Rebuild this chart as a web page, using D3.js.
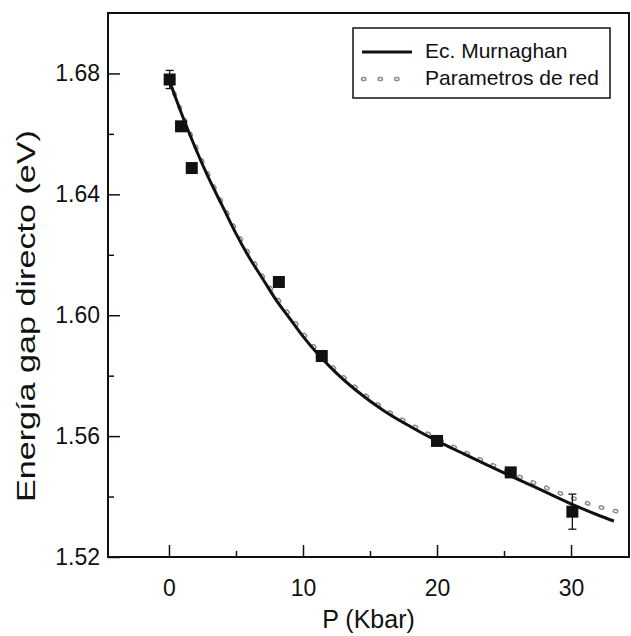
<!DOCTYPE html>
<html>
<head>
<meta charset="utf-8">
<script src="https://cdn.jsdelivr.net/npm/d3@7"></script>
<style>
  html, body { margin: 0; padding: 0; background: #fff; }
  svg { display: block; }
  text { font-family: "Liberation Sans", Arial, Helvetica, sans-serif; fill: #111; }
</style>
</head>
<body>
<svg id="chart" width="631" height="636"></svg>
<script>
// ---- data ----
const expPressure = [0.05, 0.9, 1.7, 8.2, 11.4, 20.0, 25.5, 30.1];
const expGap      = [1.678, 1.6625, 1.6487, 1.611, 1.5865, 1.5584, 1.548, 1.535];
const expErr      = [0.003, 0, 0, 0, 0, 0, 0, 0.0058];

const murnPressure = [0, 1, 2, 3, 4, 5, 6, 7, 8, 9, 10, 12, 14, 16, 18, 20, 22, 24, 26, 28, 30, 32, 33.2];
const murnGap      = [1.678, 1.666, 1.655, 1.645, 1.636, 1.627, 1.619, 1.612, 1.605, 1.599, 1.593, 1.583, 1.575, 1.5685, 1.5632, 1.5584, 1.5541, 1.5499, 1.5458, 1.5417, 1.5376, 1.5339, 1.5319];

const redPressure = [0, 1, 2, 3, 4, 5, 6, 7, 8, 9, 10, 12, 14, 16, 18, 20, 22, 24, 26, 28, 30, 32, 33.5];
const redGap      = [1.678, 1.6665, 1.6557, 1.6458, 1.6367, 1.628, 1.620, 1.6128, 1.606, 1.600, 1.594, 1.5838, 1.5758, 1.5692, 1.5639, 1.5592, 1.5548, 1.5507, 1.5468, 1.5432, 1.5397, 1.5367, 1.5350];

const xTicks = [0, 10, 20, 30];
const xMinorTicks = [5, 15, 25];
const yTicks = [1.52, 1.56, 1.60, 1.64, 1.68];
const yMinorTicks = [1.54, 1.58, 1.62, 1.66];

const xLabel = "P (Kbar)";
const yLabel = "Energía gap directo (eV)";
const legendLabels = ["Ec. Murnaghan", "Parametros de red"];

// ---- layout ----
const L = 108, R = 629, T = 13, B = 557;
const svg = d3.select("#chart");

const x = d3.scaleLinear().domain([-4.55, 34.4]).range([L, 630]);
const y = d3.scaleLinear().domain([1.52, 1.70]).range([B, T]);

// frame
svg.append("rect")
  .attr("x", L).attr("y", T).attr("width", R - L).attr("height", B - T)
  .attr("fill", "none").attr("stroke", "#111").attr("stroke-width", 2);

// x axis
const xAxis = d3.axisBottom(x).tickValues(xTicks).tickFormat(d3.format("d"))
  .tickSizeInner(-12).tickSizeOuter(0).tickPadding(23);
const gx = svg.append("g").attr("transform", `translate(0,${B})`).call(xAxis);
gx.select(".domain").remove();
gx.selectAll("line").attr("stroke", "#111").attr("stroke-width", 1.5);
gx.selectAll("text").attr("font-size", 23);

const xAxisMinor = d3.axisBottom(x).tickValues(xMinorTicks).tickFormat("")
  .tickSizeInner(-6).tickSizeOuter(0);
const gxm = svg.append("g").attr("transform", `translate(0,${B})`).call(xAxisMinor);
gxm.select(".domain").remove();
gxm.selectAll("line").attr("stroke", "#111").attr("stroke-width", 1.5);

// y axis
const yAxis = d3.axisLeft(y).tickValues(yTicks).tickFormat(d3.format(".2f"))
  .tickSizeInner(-12).tickSizeOuter(0).tickPadding(8);
const gy = svg.append("g").attr("transform", `translate(${L},0)`).call(yAxis);
gy.select(".domain").remove();
gy.selectAll("line").attr("stroke", "#111").attr("stroke-width", 1.5);
gy.selectAll("text").attr("font-size", 23);

const yAxisMinor = d3.axisLeft(y).tickValues(yMinorTicks).tickFormat("")
  .tickSizeInner(-6).tickSizeOuter(0);
const gym = svg.append("g").attr("transform", `translate(${L},0)`).call(yAxisMinor);
gym.select(".domain").remove();
gym.selectAll("line").attr("stroke", "#111").attr("stroke-width", 1.5);

// axis titles
svg.append("text")
  .attr("x", (L + R) / 2).attr("y", 628)
  .attr("text-anchor", "middle").attr("font-size", 25)
  .text(xLabel);

svg.append("text")
  .attr("transform", `translate(35,316) rotate(-90)`)
  .attr("text-anchor", "middle").attr("font-size", 25.5)
  .attr("textLength", 372).attr("lengthAdjust", "spacingAndGlyphs")
  .text(yLabel);

// curves
const line = d3.line().x(d => x(d[0])).y(d => y(d[1])).curve(d3.curveMonotoneX);
const redData = redPressure.map((p, i) => [p, redGap[i]]);

svg.append("path")
  .datum(redData).attr("d", line)
  .attr("fill", "none").attr("stroke", "#8a8a8a").attr("stroke-width", 4.5)
  .attr("stroke-linecap", "round").attr("stroke-dasharray", "1.5 13");
svg.append("path")
  .datum(redData).attr("d", line)
  .attr("fill", "none").attr("stroke", "#ffffff").attr("stroke-width", 1.6)
  .attr("stroke-linecap", "round").attr("stroke-dasharray", "1.5 13");

svg.append("path")
  .datum(murnPressure.map((p, i) => [p, murnGap[i]]))
  .attr("d", line)
  .attr("fill", "none").attr("stroke", "#111").attr("stroke-width", 3);

// error bars
const errData = expPressure.map((p, i) => ({p, g: expGap[i], e: expErr[i]})).filter(d => d.e > 0);
const eg = svg.append("g").attr("stroke", "#111").attr("stroke-width", 1.3);
eg.selectAll("line.v").data(errData).join("line")
  .attr("x1", d => x(d.p)).attr("x2", d => x(d.p))
  .attr("y1", d => y(d.g - d.e)).attr("y2", d => y(d.g + d.e));
eg.selectAll("line.t").data(errData).join("line")
  .attr("x1", d => x(d.p) - 4).attr("x2", d => x(d.p) + 4)
  .attr("y1", d => y(d.g + d.e)).attr("y2", d => y(d.g + d.e));
eg.selectAll("line.b").data(errData).join("line")
  .attr("x1", d => x(d.p) - 4).attr("x2", d => x(d.p) + 4)
  .attr("y1", d => y(d.g - d.e)).attr("y2", d => y(d.g - d.e));

// squares
const S = 12;
svg.append("g").selectAll("rect").data(expPressure.map((p, i) => [p, expGap[i]])).join("rect")
  .attr("x", d => x(d[0]) - S / 2).attr("y", d => y(d[1]) - S / 2)
  .attr("width", S).attr("height", S).attr("fill", "#111");

// legend
const lg = svg.append("g");
lg.append("rect").attr("x", 353).attr("y", 28).attr("width", 257).attr("height", 70)
  .attr("fill", "#fff").attr("stroke", "#111").attr("stroke-width", 1.5);
lg.append("line").attr("x1", 362).attr("x2", 412).attr("y1", 52).attr("y2", 52)
  .attr("stroke", "#111").attr("stroke-width", 3);
lg.append("line").attr("x1", 363).attr("x2", 400).attr("y1", 79).attr("y2", 79)
  .attr("stroke", "#8a8a8a").attr("stroke-width", 4.5)
  .attr("stroke-linecap", "round").attr("stroke-dasharray", "1.5 15");
lg.append("line").attr("x1", 363).attr("x2", 400).attr("y1", 79).attr("y2", 79)
  .attr("stroke", "#ffffff").attr("stroke-width", 1.6)
  .attr("stroke-linecap", "round").attr("stroke-dasharray", "1.5 15");
lg.append("text").attr("x", 425).attr("y", 58).attr("font-size", 21).text(legendLabels[0]);
lg.append("text").attr("x", 425).attr("y", 85).attr("font-size", 21).text(legendLabels[1]);
</script>
</body>
</html>
